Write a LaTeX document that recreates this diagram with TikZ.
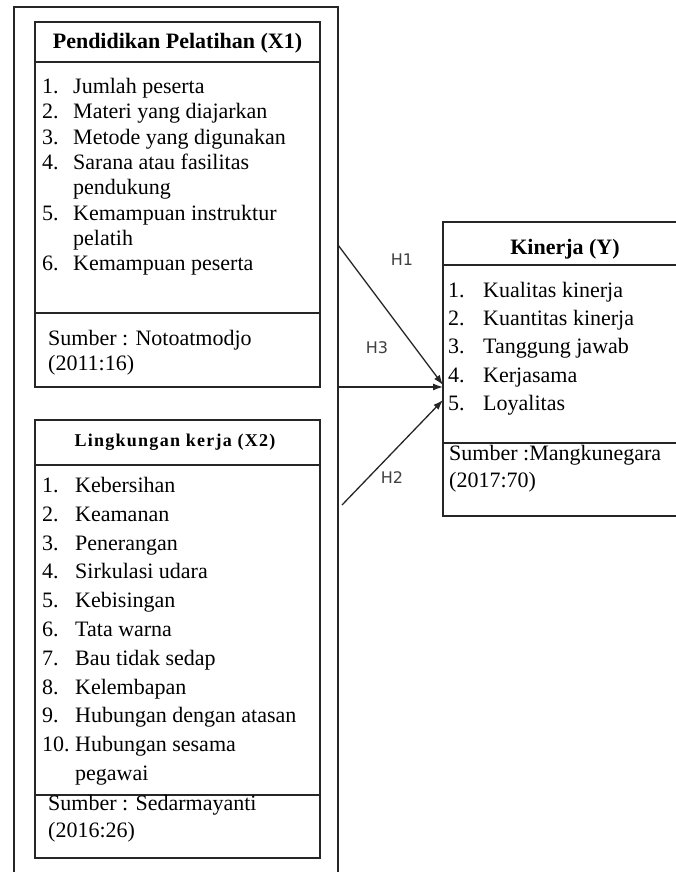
\documentclass[tikz,border=0pt]{standalone}
\usepackage{fontspec}
\setmainfont{Liberation Serif}
\newfontfamily\hfont{DejaVu Sans}
\usetikzlibrary{arrows.meta}
\begin{document}
\begin{tikzpicture}[x=1pt,y=-1pt,
  box/.style={draw=black!85, line width=1.6pt, rectangle, inner sep=0pt, outer sep=0pt},
  outerbox/.style={box, line width=2pt},
  divider/.style={draw=black!85, line width=1.6pt},
  txt/.style={anchor=base west, inner sep=0pt, font=\fontsize{22}{25}\selectfont},
  ttl/.style={anchor=base, inner sep=0pt, font=\fontsize{22}{25}\selectfont\bfseries},
  ttlsmall/.style={anchor=base, inner sep=0pt, font=\fontsize{18}{20}\selectfont\bfseries\addfontfeature{LetterSpace=7}},
  hlabel/.style={inner sep=0pt, font=\hfont\fontsize{16}{18}\selectfont, text=black!75},
  arr/.style={draw=black!85, line width=1.3pt, -{Latex[length=10pt,width=7pt]}}
]
\useasboundingbox (0,0) rectangle (675,872);

% boxes
\node[outerbox, minimum width=324pt, minimum height=873pt] (outer) at (176,443.5) {};
\node[box, minimum width=285pt, minimum height=365pt] (x1) at (177.5,204.5) {};
\node[box, minimum width=285pt, minimum height=438pt] (x2) at (177.5,639) {};
\node[box, minimum width=237pt, minimum height=294pt] (ky) at (561.5,369) {};

% dividers
\draw[divider] (x1.west |- 0,62) -- (x1.east |- 0,62);
\draw[divider] (x1.west |- 0,313) -- (x1.east |- 0,313);
\draw[divider] (x2.west |- 0,465) -- (x2.east |- 0,465);
\draw[divider] (x2.west |- 0,795) -- (x2.east |- 0,795);
\draw[divider] (ky.west |- 0,265) -- (ky.east |- 0,265);
\draw[divider] (ky.west |- 0,443) -- (ky.east |- 0,443);

% titles
\node[ttl] (x1title) at (177.5,49) {Pendidikan Pelatihan (X1)};
\node[ttlsmall] (x2title) at (175,446) {Lingkungan kerja (X2)};
\node[ttl] (kytitle) at (565,254) {Kinerja (Y)};

% X1 items
\foreach \t/\y [count=\i] in {Jumlah peserta/94, Materi yang diajarkan/119, Metode yang digunakan/144, Sarana atau fasilitas/169, pendukung/194, Kemampuan instruktur/220, pelatih/245, Kemampuan peserta/270}
  \node[txt] (x1t\i) at (73,\y) {\t};
\foreach \n/\y [count=\i] in {1./94, 2./119, 3./144, 4./169, 5./220, 6./270}
  \node[txt] (x1n\i) at (42,\y) {\n};
\node[txt] (x1s1) at (48,345) {Sumber : Notoatmodjo};
\node[txt] (x1s2) at (48,370) {(2011:16)};

% X2 items
\foreach \t/\y [count=\i] in {Kebersihan/492, Keamanan/521, Penerangan/550, Sirkulasi udara/578, Kebisingan/607, Tata warna/636, Bau tidak sedap/665, Kelembapan/694, Hubungan dengan atasan/722, Hubungan sesama/751, pegawai/780}
  \node[txt] (x2t\i) at (75,\y) {\t};
\foreach \n/\y [count=\i] in {1./492, 2./521, 3./550, 4./578, 5./607, 6./636, 7./665, 8./694, 9./722, 10./751}
  \node[txt] (x2n\i) at (42,\y) {\n};
\node[txt] (x2s1) at (48,810) {Sumber : Sedarmayanti};
\node[txt] (x2s2) at (48,837) {(2016:26)};

% Kinerja items
\foreach \t/\y [count=\i] in {Kualitas kinerja/297, Kuantitas kinerja/325, Tanggung jawab/353, Kerjasama/382, Loyalitas/410}
  \node[txt] (kyt\i) at (483,\y) {\t};
\foreach \n/\y [count=\i] in {1./297, 2./325, 3./353, 4./382, 5./410}
  \node[txt] (kyn\i) at (448,\y) {\n};
\node[txt] (kys1) at (449,460) {Sumber :Mangkunegara};
\node[txt] (kys2) at (449,487) {(2017:70)};

% arrows
\coordinate (h1s) at (outer.east |- 0,245);
\coordinate (h1e) at (ky.west |- 0,385);
\coordinate (h3s) at (outer.east |- 0,387);
\coordinate (h3e) at (ky.west |- 0,387);
\coordinate (h2s) at (342,505);
\coordinate (h2e) at (ky.west |- 0,400);
\draw[arr] (h1s) -- (h1e);
\draw[arr] (h3s) -- (h3e);
\draw[arr] (h2s) -- (h2e);

\node[hlabel] (lh1) at (402,260) {H1};
\node[hlabel] (lh3) at (377,348) {H3};
\node[hlabel] (lh2) at (392,478) {H2};
\end{tikzpicture}
\end{document}
